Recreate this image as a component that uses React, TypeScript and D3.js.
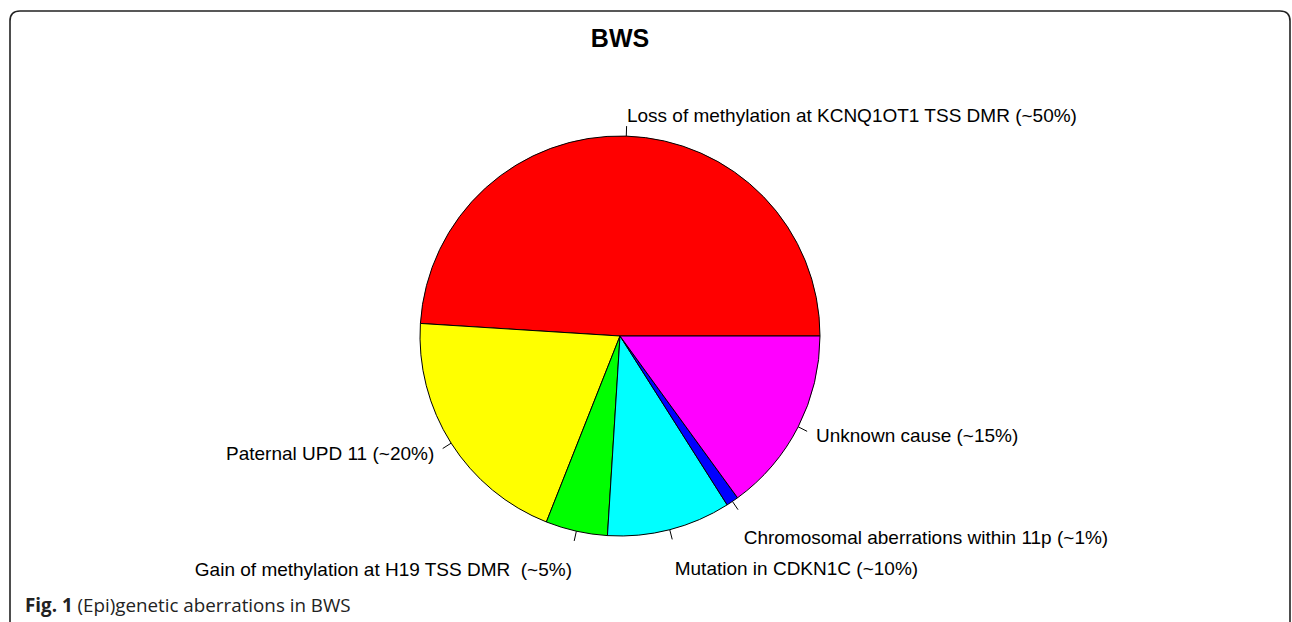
import React from 'react';
import * as d3 from 'd3';

// pie data, order is counterclockwise from 3 o'clock like R's pie()
const causes = [
  'Loss of methylation at KCNQ1OT1 TSS DMR (~50%)',
  'Paternal UPD 11 (~20%)',
  '\n\nGain of methylation at H19 TSS DMR  (~5%)',
  '\n\nMutation in CDKN1C (~10%)',
  '\n\nChromosomal aberrations within 11p (~1%)',
  'Unknown cause (~15%)'
];
const shares = [49, 20, 5, 10, 1, 15];
const sliceColors = ['#ff0000', '#ffff00', '#00ff00', '#00ffff', '#0000ff', '#ff00ff'];

const W = 1292;
const H = 622;
const cx = 620;
const cy = 336;
const R = 200;
const fontSize = 19;
const lineH = 20;

export default function App() {
  const total = d3.sum(shares);
  // R-style angle: 0 = 3 o'clock, counterclockwise
  const ang = d3.scaleLinear().domain([0, total]).range([0, 2 * Math.PI]);
  const cum = d3.cumsum(shares);

  const arc = d3.arc<any>().innerRadius(0).outerRadius(R);

  const slices = shares.map((v, i) => {
    const a0 = ang(cum[i] - v);
    const a1 = ang(cum[i]);
    const mid = (a0 + a1) / 2;
    // convert to d3 angles (clockwise from 12 o'clock)
    const path = arc({startAngle: Math.PI / 2 - a0, endAngle: Math.PI / 2 - a1}) as string;
    return {i, a0, a1, mid, path};
  });

  return (
    <svg width={W} height={H} style={{position: 'absolute', left: 0, top: 0}}>
      <rect x={0} y={0} width={W} height={H} fill='#fff' />
      {/* figure frame */}
      <path
        d={`M10,${H + 10} L10,21 Q10,11 20,11 L1280,11 Q1290,11 1290,21 L1290,${H + 10}`}
        fill='none'
        stroke='#222'
        strokeWidth={1.6}
      />
      <text x={cx} y={47} textAnchor='middle' fontFamily='Liberation Sans, Arial, sans-serif'
        fontWeight='bold' fontSize={25}>BWS</text>

      <g transform={`translate(${cx},${cy})`}>
        {slices.map(s => (
          <path key={s.i} d={s.path} fill={sliceColors[s.i]} stroke='#000' strokeWidth={1} />
        ))}
        {slices.map(s => {
          const c = Math.cos(s.mid);
          const sn = -Math.sin(s.mid);
          const lines = causes[s.i].split('\n');
          const y0 = 1.1 * R * sn - ((lines.length - 1) * lineH) / 2;
          return (
            <g key={'l' + s.i}>
              <line x1={R * c} y1={R * sn} x2={1.05 * R * c} y2={1.05 * R * sn} stroke='#000' strokeWidth={1} />
              {lines.map((t, k) => t === '' ? null : (
                <text key={k}
                  x={1.1 * R * c}
                  y={y0 + k * lineH - 1}
                  dy='0.35em'
                  textAnchor={c < 0 ? 'end' : 'start'}
                  fontFamily='Liberation Sans, Arial, sans-serif'
                  fontSize={fontSize}
                  style={{whiteSpace: 'pre'}}
                  fill='#000'>{t}</text>
              ))}
            </g>
          );
        })}
      </g>

      <text x={25} y={612} fontFamily='Open Sans, sans-serif' fontSize={18.8} fill='#222'>
        <tspan fontWeight='bold'>Fig. 1</tspan>
        <tspan> (Epi)genetic aberrations in BWS</tspan>
      </text>
    </svg>
  );
}
